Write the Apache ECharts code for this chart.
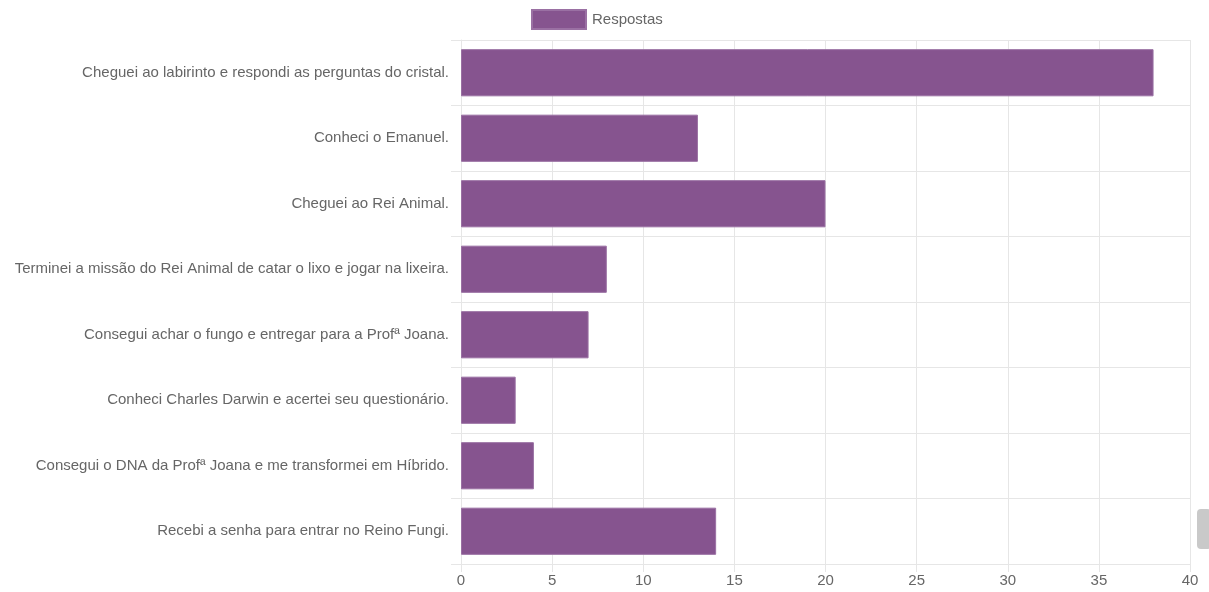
<!DOCTYPE html>
<html>
<head>
<meta charset="utf-8">
<style>
  html, body { margin: 0; padding: 0; background: #fff; }
  #chart { width: 1209px; height: 592px; }
</style>
<script src="https://cdn.jsdelivr.net/npm/echarts@6/dist/echarts.min.js"></script>
</head>
<body>
<div id="chart"></div>
<script>
// Survey answers: how far each player got in the game
const categories = [
  'Cheguei ao labirinto e respondi as perguntas do cristal.',
  'Conheci o Emanuel.',
  'Cheguei ao Rei Animal.',
  'Terminei a missão do Rei Animal de catar o lixo e jogar na lixeira.',
  'Consegui achar o fungo e entregar para a Profª Joana.',
  'Conheci Charles Darwin e acertei seu questionário.',
  'Consegui o DNA da Profª Joana e me transformei em Híbrido.',
  'Recebi a senha para entrar no Reino Fungi.'
];
const respostas = [38, 13, 20, 8, 7, 3, 4, 14];
const seriesName = 'Respostas';

const textColor = '#666666';
const gridColor = '#e6e6e6';
const fontFamily = '"Liberation Sans", Arial, Helvetica, sans-serif';
const fontSize = 15;

const chart = echarts.init(document.getElementById('chart'), null, { renderer: 'canvas' });
chart.setOption({
  animation: false,
  textStyle: { fontFamily: fontFamily },
  legend: {
    data: [seriesName],
    left: 531,
    top: 9,
    itemWidth: 54,
    itemHeight: 19,
    padding: 0,
    icon: 'rect',
    textStyle: { color: textColor, fontSize: fontSize, fontFamily: fontFamily, padding: [0, 0, 0, 1] }
  },
  grid: { left: 461, right: 19, top: 40, bottom: 28, containLabel: false },
  xAxis: {
    type: 'value',
    min: 0,
    max: 40,
    interval: 5,
    axisLine: { show: false },
    axisTick: { show: true, length: 8, lineStyle: { color: gridColor } },
    axisLabel: { color: textColor, fontSize: fontSize, margin: 9, fontFamily: fontFamily },
    splitLine: { show: true, lineStyle: { color: gridColor, width: 1 } }
  },
  yAxis: {
    type: 'category',
    inverse: true,
    data: categories,
    axisLine: { show: true, lineStyle: { color: gridColor } },
    axisTick: { show: true, length: 10, lineStyle: { color: gridColor } },
    axisLabel: { color: textColor, fontSize: fontSize, margin: 12, fontFamily: fontFamily },
    splitLine: { show: true, lineStyle: { color: gridColor, width: 1 } }
  },
  series: [{
    name: seriesName,
    type: 'bar',
    data: respostas,
    barWidth: '72%',
    itemStyle: { color: '#86548f', borderColor: '#9a70a3', borderWidth: 1 }
  }],
  graphic: [{
    type: 'rect',
    left: 1197,
    top: 509,
    shape: { width: 14, height: 40, r: 4 },
    style: { fill: '#c9c9c9' },
    silent: true
  }]
});
</script>
</body>
</html>
